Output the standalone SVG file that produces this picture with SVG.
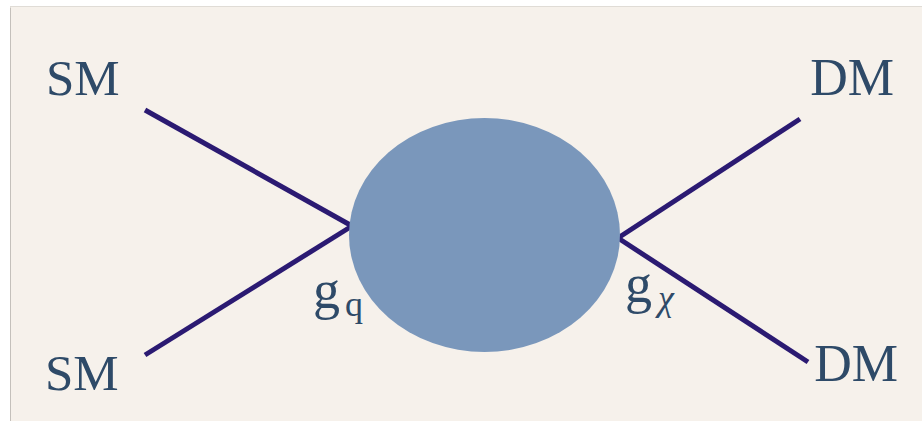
<svg xmlns="http://www.w3.org/2000/svg" width="922" height="421" viewBox="0 0 922 421">
<style>
.t{font-family:"Liberation Serif","DejaVu Serif",serif;fill:#2e4a68}
.l{stroke:#2b1a72;stroke-width:5;stroke-linecap:butt;fill:none}
</style>
<rect x="0" y="0" width="922" height="421" fill="#ffffff"/>
<rect x="10.5" y="6.5" width="915" height="420" fill="#f6f1eb" stroke="#e0dcd6" stroke-width="1"/>
<line x1="10.5" y1="8" x2="10.5" y2="421" stroke="#c4c0bb" stroke-width="1"/>
<g id="connectors">
<line class="l" x1="145" y1="110" x2="352" y2="226"/>
<line class="l" x1="145" y1="355" x2="352" y2="226"/>
<line class="l" x1="800" y1="119" x2="618" y2="238"/>
<line class="l" x1="618" y1="238" x2="808" y2="362"/>
</g>
<g id="blob"><ellipse cx="484.5" cy="235" rx="135.5" ry="117" fill="#7a97bb"/></g>
<g id="sm1"><text class="t" x="46" y="95" font-size="51">SM</text></g>
<g id="sm2"><text class="t" x="45" y="390" font-size="51">SM</text></g>
<g id="dm1"><text class="t" x="894" y="95" font-size="52" text-anchor="end">DM</text></g>
<g id="dm2"><text class="t" x="898" y="381" font-size="52" text-anchor="end">DM</text></g>
<g id="gq"><text class="t" x="313" y="308" font-size="54">g<tspan font-size="36" dx="5" dy="8">q</tspan></text></g>
<g id="gchi"><text class="t" x="625" y="302" font-size="54">g<tspan font-size="36" dx="6" dy="8" font-style="italic">χ</tspan></text></g>
</svg>
